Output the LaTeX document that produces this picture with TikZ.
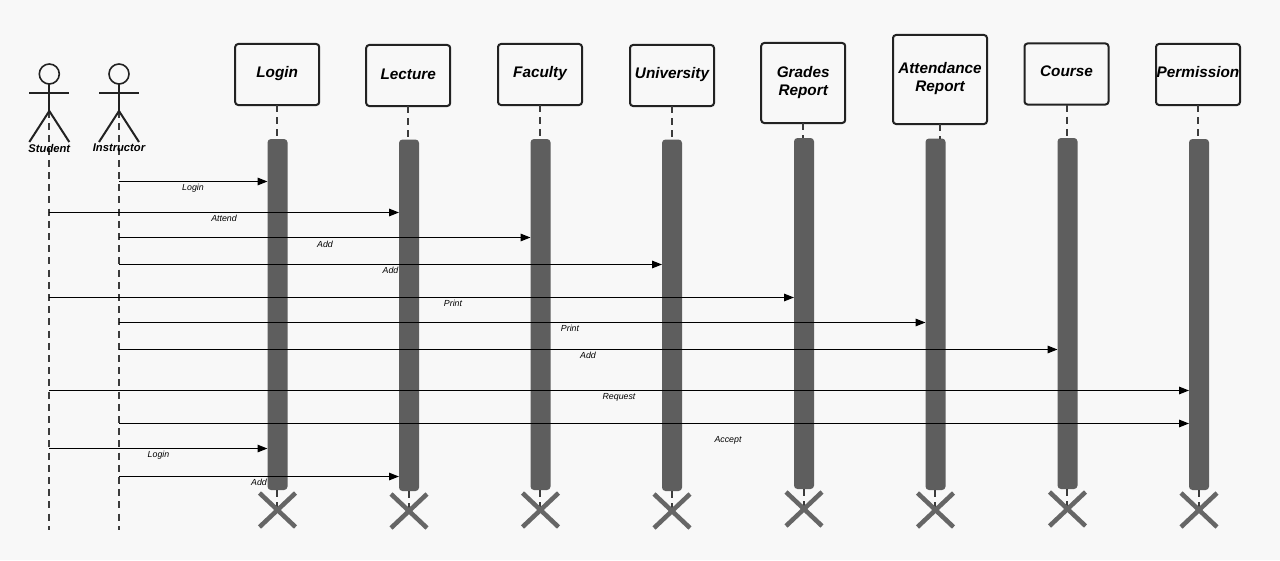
\documentclass[tikz,border=0pt]{standalone}
\usepackage{fontspec}
\setmainfont{Liberation Sans}
\usetikzlibrary{arrows.meta}
\newdimen\upx \upx=0.75pt
\newcommand{\up}[2]{\raisebox{#1}[\height][\depth]{#2}}
\definecolor{bgc}{HTML}{F8F8F8}
\definecolor{barc}{HTML}{5E5E5E}
\definecolor{crossc}{HTML}{666666}
\definecolor{linec}{HTML}{222222}
\definecolor{lifec}{HTML}{3C3C3C}
\tikzset{
  objbox/.style={draw=linec,line width=1.5pt,rounded corners=2.25pt,inner sep=0pt,outer sep=0pt,align=center,
    font=\fontsize{11.5}{13.6}\selectfont\bfseries\itshape},
  actbar/.style={fill=barc,draw=none,rounded corners=2.6pt,minimum width=15pt,inner sep=0pt,outer sep=0pt},
  life/.style={draw=lifec,line width=1.5pt,dash pattern=on 5.25pt off 3.9pt},
  actorline/.style={draw=linec,line width=1.5pt},
  actorlabel/.style={inner sep=0pt,font=\fontsize{8.4}{10}\selectfont\bfseries\itshape},
  msgline/.style={draw=black,line width=1.125pt,-{Triangle[length=7.5pt,width=5.6pt]}},
  msglabel/.style={inner sep=0pt,font=\fontsize{6.6}{8}\selectfont\itshape},
  crossline/.style={draw=crossc,line width=3.4pt}
}
% \objectcol{name}{box x}{box top}{box w}{box h}{text}{bar x}{bar top}{bar bottom}
\newcommand{\objectcol}[9]{%
  \node[objbox,minimum width=#4*\upx,minimum height=#5*\upx] (#1) at (#2,{#3+#5/2}) {#6};
  \node[actbar,minimum height={(#9-#8)*\upx}] (#1bar) at (#7,{(#8+#9)/2}) {};
  \coordinate (#1end) at (#7,{#9+20});
  \coordinate (#1top) at (#2,#8);
  \draw[life] (#1.south) -- (#1top);
  \draw[life] ([xshift=-0.25pt]#1bar.south) -- ([xshift=-0.25pt]#1end);
  \draw[crossline] ([shift={(-18,-17)}]#1end) -- ([shift={(18,17)}]#1end);
  \draw[crossline] ([shift={(-18,17)}]#1end) -- ([shift={(18,-17)}]#1end);
}
% \actorfig{name}{x}{text}
\newcommand{\actorfig}[3]{%
  \coordinate (#1hip) at (#2,111);
  \coordinate (#1base) at (#2,530);
  \draw[life] (#1hip) -- (#1base);
  \node[draw=linec,line width=1.2pt,fill=bgc,circle,minimum size=15pt,inner sep=0pt,outer sep=0pt] (#1head) at (#2,74) {};
  \draw[actorline] (#1head.south) -- (#1hip);
  \draw[actorline] ({#2-20},93) -- ({#2+20},93);
  \draw[actorline] ({#2-20},142) -- (#1hip) -- ({#2+20},142);
  \node[actorlabel] (#1label) at (#2,148) {#3};
}
% \msg{id}{from}{to}{y}{text}{label x}{label y}
\newcommand{\msg}[7]{%
  \coordinate (#1y) at (0,#4);
  \coordinate (#1s) at (#2hip |- #1y);
  \coordinate (#1e) at (#3bar.west |- #1y);
  \draw[msgline] (#1s) -- (#1e);
  \node[msglabel] (#1label) at (#6,#7) {#5};
}
\begin{document}
\begin{tikzpicture}[x=0.75pt,y=-0.75pt]
\fill[bgc] (0,0) rectangle (1280,560);
\useasboundingbox (0,0) rectangle (1280,560);
\objectcol{login}{277.2}{44}{84}{61}{\up{0.4pt}{Login}}{277.5}{139}{490}
\objectcol{lecture}{408.2}{45}{84}{61}{\up{1.1pt}{Lecture}}{409}{139.5}{491}
\objectcol{faculty}{540}{44}{84}{61}{\up{0.4pt}{Faculty}}{540.5}{139}{490}
\objectcol{university}{672}{45}{84}{61}{\up{0.8pt}{University}}{672}{139.5}{491}
\objectcol{grades}{803.2}{43}{84}{80}{\up{0.4pt}{Grades}\\\up{0.4pt}{Report}}{804}{138}{489}
\objectcol{attendance}{940}{35}{94}{89}{\up{0.8pt}{Attendance}\\\up{0.8pt}{Report}}{935.5}{138.5}{490}
\objectcol{course}{1066.5}{43.5}{84}{61}{\up{1.9pt}{Course}}{1067.5}{138}{489}
\objectcol{permission}{1198}{44}{84}{61}{\up{1.5pt}{Permission}}{1199}{139}{490}
\actorfig{student}{49.3}{Student}
\actorfig{instructor}{119}{Instructor}
\msg{m1}{instructor}{login}{181.5}{Login}{193}{187.8}
\msg{m2}{student}{lecture}{212.5}{Attend}{224}{218}
\msg{m3}{instructor}{faculty}{237.5}{Add}{325}{244}
\msg{m4}{instructor}{university}{264.5}{Add}{390.5}{270}
\msg{m5}{student}{grades}{297.5}{Print}{453}{303}
\msg{m6}{instructor}{attendance}{322.5}{Print}{570}{328}
\msg{m7}{instructor}{course}{349.5}{Add}{588}{355.5}
\msg{m8}{student}{permission}{390.5}{Request}{619}{397.4}
\msg{m9}{instructor}{permission}{423.5}{Accept}{728}{440}
\msg{m10}{student}{login}{448.5}{Login}{158.5}{455.2}
\msg{m11}{instructor}{lecture}{476.5}{Add}{259}{482}
\end{tikzpicture}
\end{document}
